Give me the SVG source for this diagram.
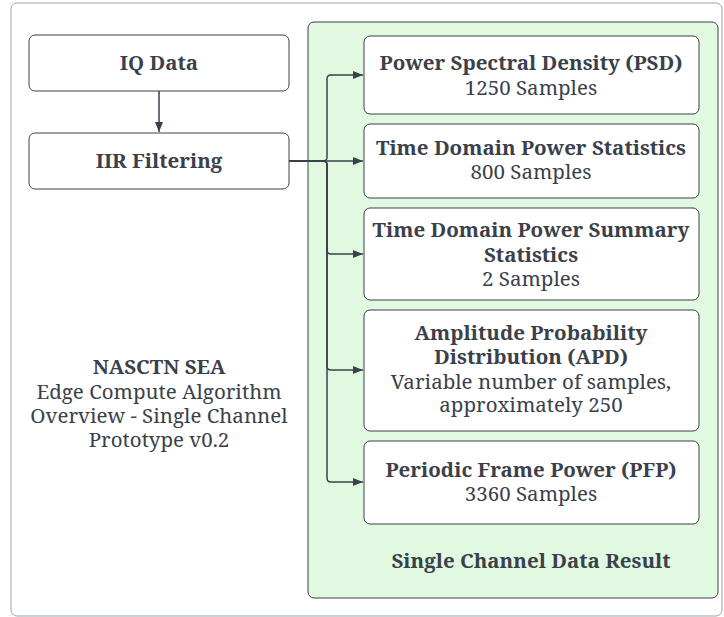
<svg xmlns="http://www.w3.org/2000/svg" width="724" height="617" viewBox="0 0 724 617">
<defs>
<marker id="ah" markerWidth="10" markerHeight="8" refX="10" refY="4" orient="auto" markerUnits="userSpaceOnUse">
<path d="M0,0 L10,4 L0,8 Z" fill="#3a414a"/>
</marker>
<style>
.box{fill:#ffffff;stroke:#3a414a;stroke-width:1}
.t{font-family:"Noto Serif","DejaVu Serif","Liberation Serif",serif;fill:#3a414a;text-anchor:middle}
.b{font-weight:bold;font-size:20.5px}
.r{font-size:20.5px}
.c{fill:none;stroke:#3a414a;stroke-width:1.5}
</style>
</defs>
<rect width="724" height="617" fill="#ffffff"/>
<g id="frame"><rect x="11" y="3" width="711" height="613" rx="6" fill="#ffffff" stroke="#9ea3a8" stroke-width="1"/></g>
<g id="container">
<rect x="308" y="22" width="410" height="576" rx="6" fill="#e1f8e1" stroke="#3a414a" stroke-width="1"/>
<text class="t b" x="531" y="568">Single Channel Data Result</text>
</g>
<g id="title">
<text class="t" x="159" y="374"><tspan class="b" x="159">NASCTN SEA</tspan><tspan class="r" x="159" dy="25">Edge Compute Algorithm</tspan><tspan class="r" x="159" dy="24">Overview - Single Channel</tspan><tspan class="r" x="159" dy="24">Prototype v0.2</tspan></text>
</g>
<g id="iq"><rect class="box" x="29" y="35" width="260" height="56" rx="6"/><text class="t b" x="159" y="70">IQ Data</text></g>
<g id="iir"><rect class="box" x="29" y="133" width="260" height="56" rx="6"/><text class="t b" x="159" y="168">IIR Filtering</text></g>
<g id="psd"><rect class="box" x="364" y="36" width="335" height="78" rx="6"/><text class="t" x="531" y="70"><tspan class="b" x="531">Power Spectral Density (PSD)</tspan><tspan class="r" x="531" dy="25">1250 Samples</tspan></text></g>
<g id="tdps"><rect class="box" x="364" y="124" width="335" height="74" rx="6"/><text class="t" x="531" y="155"><tspan class="b" x="531">Time Domain Power Statistics</tspan><tspan class="r" x="531" dy="24">800 Samples</tspan></text></g>
<g id="tdpss"><rect class="box" x="364" y="208" width="335" height="92" rx="6"/><text class="t" x="531" y="237"><tspan class="b" x="531">Time Domain Power Summary</tspan><tspan class="b" x="531" dy="25">Statistics</tspan><tspan class="r" x="531" dy="24">2 Samples</tspan></text></g>
<g id="apd"><rect class="box" x="364" y="310" width="335" height="121" rx="6"/><text class="t" x="531" y="340"><tspan class="b" x="531">Amplitude Probability</tspan><tspan class="b" x="531" dy="24">Distribution (APD)</tspan><tspan class="r" x="531" dy="25">Variable number of samples,</tspan><tspan class="r" x="531" dy="23">approximately 250</tspan></text></g>
<g id="pfp"><rect class="box" x="364" y="441" width="335" height="83" rx="6"/><text class="t" x="531" y="477"><tspan class="b" x="531">Periodic Frame Power (PFP)</tspan><tspan class="r" x="531" dy="24">3360 Samples</tspan></text></g>
<g id="connectors">
<path class="c" d="M159,91 L159,132" marker-end="url(#ah)"/>
<path class="c" d="M289,161 L323,161 Q327,161 327,157 L327,79 Q327,75 331,75 L363,75" marker-end="url(#ah)"/>
<path class="c" d="M289,161 L363,161" marker-end="url(#ah)"/>
<path class="c" d="M289,161 L323,161 Q327,161 327,165 L327,250 Q327,254 331,254 L363,254" marker-end="url(#ah)"/>
<path class="c" d="M289,161 L323,161 Q327,161 327,165 L327,366 Q327,370 331,370 L363,370" marker-end="url(#ah)"/>
<path class="c" d="M289,161 L323,161 Q327,161 327,165 L327,478 Q327,482 331,482 L363,482" marker-end="url(#ah)"/>
</g>
</svg>
